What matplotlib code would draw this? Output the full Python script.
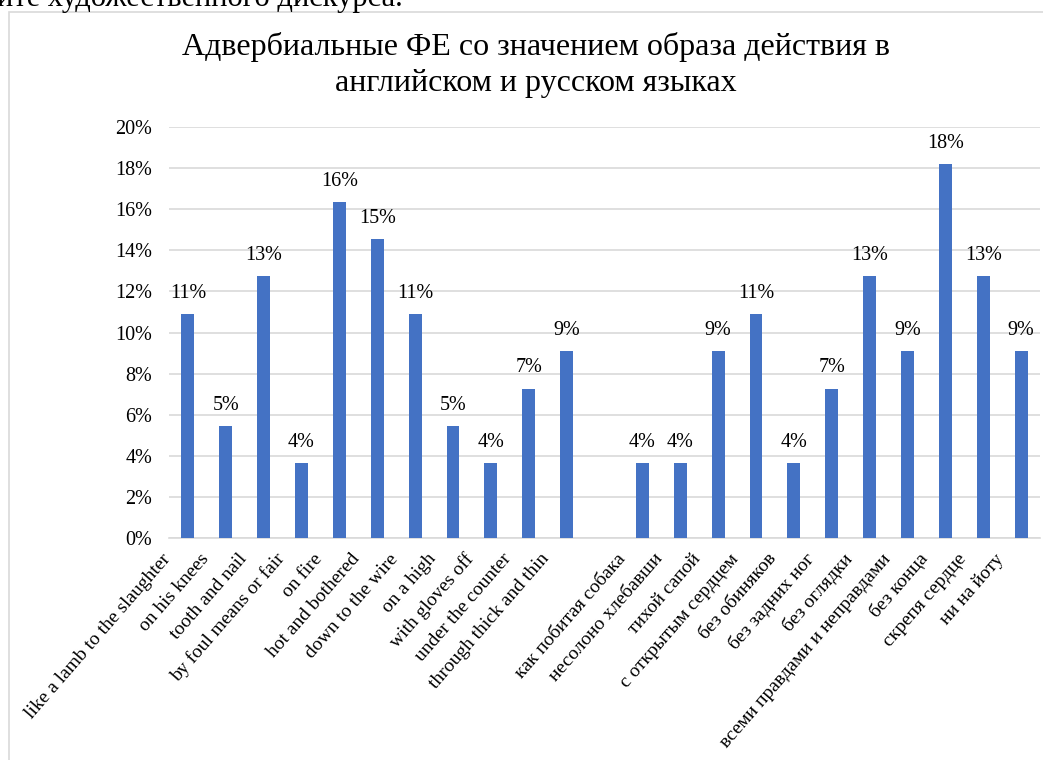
import matplotlib.pyplot as plt
from matplotlib.patches import Rectangle
from matplotlib.transforms import ScaledTranslation

plt.rcParams['font.family'] = ['Liberation Serif', 'DejaVu Serif']

# English idioms and their shares
eng_labels = ['like a lamb to the slaughter', 'on his knees', 'tooth and nail',
              'by foul means or fair', 'on fire', 'hot and bothered',
              'down to the wire', 'on a high', 'with gloves off',
              'under the counter', 'through thick and thin']
eng_values = [0.1091, 0.0545, 0.1273, 0.0364, 0.1636, 0.1455,
              0.1091, 0.0545, 0.0364, 0.0727, 0.0909]

# Russian idioms and their shares
rus_labels = ['как побитая собака', 'несолоно хлебавши', 'тихой сапой',
              'с открытым сердцем', 'без обиняков', 'без задних ног',
              'без оглядки', 'всеми правдами и неправдами', 'без конца',
              'скрепя сердце', 'ни на йоту']
rus_values = [0.0364, 0.0364, 0.0909, 0.1091, 0.0364, 0.0727,
              0.1273, 0.0909, 0.1818, 0.1273, 0.0909]

yticks = [0, 0.02, 0.04, 0.06, 0.08, 0.10, 0.12, 0.14, 0.16, 0.18, 0.20]

title = 'Адвербиальные ФЕ со значением образа действия в\nанглийском и русском языках'
above_text = 'ите художественного дискурса.'

W, H = 1043, 760
fig = plt.figure(figsize=(W / 100, H / 100), dpi=100)

# text line from the page above the chart (cut off at the top)
fig.text(-3 / W, 1 - 6 / H, above_text, fontsize=22, ha='left', va='baseline')

# chart frame
fig.patches.append(Rectangle((9 / W, -0.01), 1.0, 1 - 12 / H + 0.01,
                             transform=fig.transFigure, fill=False,
                             edgecolor='#D9D9D9', linewidth=1.2))

fig.text(536 / W, 1 - 65 / H, title, fontsize=23, ha='center', va='center',
         multialignment='center', linespacing=1.3)

ax = fig.add_axes([169 / W, 222 / H, 871 / W, 411 / H])

labels = eng_labels + rus_labels
values = eng_values + rus_values
pos = list(range(len(eng_labels))) + [len(eng_labels) + 1 + i for i in range(len(rus_labels))]

bars = ax.bar(pos, values, width=0.34, color='#4472C4', zorder=3)
for p, v in zip(pos, values):
    ax.annotate(f'{v:.0%}', (p, v), xytext=(0, 8), textcoords='offset points',
                ha='center', va='bottom', fontsize=14.5)

ax.set_xlim(-0.5, len(eng_labels) + len(rus_labels) + 0.5)
ax.set_ylim(0, 0.20)
ax.set_yticks(yticks)
ax.set_yticklabels([f'{t:.0%}' for t in yticks], fontsize=14.5)
ax.yaxis.grid(True, color='#D9D9D9', linewidth=1.2, zorder=0)
ax.set_axisbelow(True)
for s in ['top', 'right', 'left']:
    ax.spines[s].set_visible(False)
ax.spines['bottom'].set_color('#D9D9D9')
ax.spines['bottom'].set_linewidth(1.2)
ax.tick_params(axis='both', length=0)
ax.tick_params(axis='y', pad=12)

ax.set_xticks(pos)
ax.set_xticklabels(labels, fontsize=14, rotation=49, ha='right', va='center',
                   rotation_mode='anchor')
ax.tick_params(axis='x', pad=13)
shift = ScaledTranslation(-0.2, 0, fig.dpi_scale_trans)
for lbl in ax.get_xticklabels():
    lbl.set_transform(lbl.get_transform() + shift)

fig.savefig('out.png', dpi=100, facecolor='white')
